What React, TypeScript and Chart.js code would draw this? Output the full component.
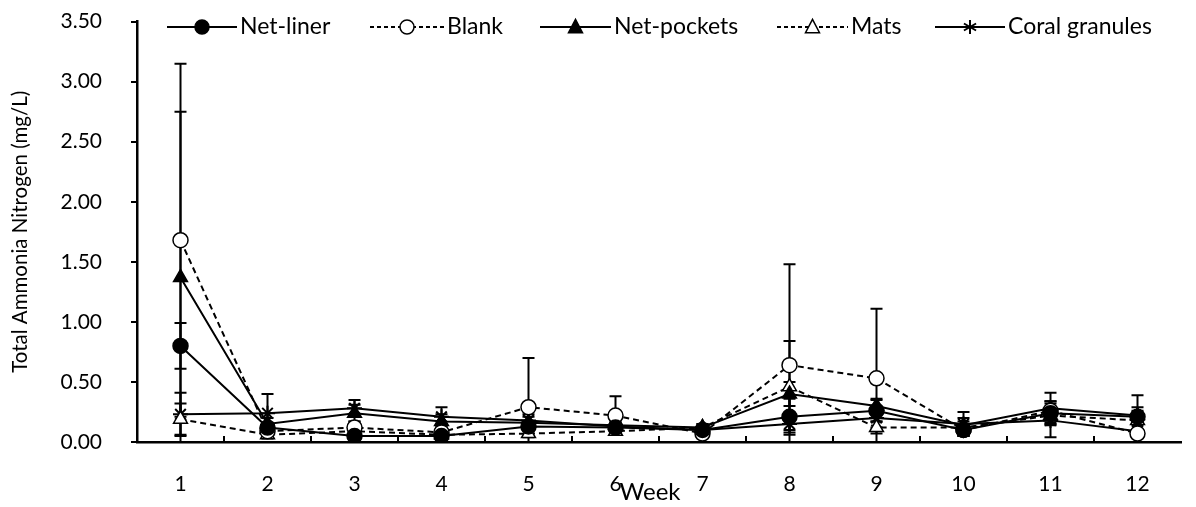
import React, { useEffect, useRef } from "react";
import { Chart, registerables } from "chart.js";

Chart.register(...registerables);

const weeks = ["1", "2", "3", "4", "5", "6", "7", "8", "9", "10", "11", "12"];

const netLiner = [0.80, 0.12, 0.05, 0.05, 0.13, 0.12, 0.10, 0.21, 0.26, 0.10, 0.24, 0.21];
const blank = [1.68, 0.09, 0.12, 0.08, 0.29, 0.22, 0.07, 0.64, 0.53, 0.10, 0.26, 0.07];
const netPockets = [1.37, 0.15, 0.24, 0.17, 0.16, 0.14, 0.12, 0.40, 0.30, 0.14, 0.28, 0.22];
const mats = [0.19, 0.06, 0.09, 0.06, 0.07, 0.09, 0.12, 0.46, 0.12, 0.12, 0.22, 0.18];
const coral = [0.23, 0.24, 0.28, 0.21, 0.18, 0.13, 0.10, 0.15, 0.20, 0.15, 0.18, 0.09];

const netLinerSD = [0.19, 0.04, 0.03, 0.03, 0.04, 0.04, 0.03, 0.15, 0.09, 0.05, 0.10, 0.05];
const blankSD = [1.47, 0.04, 0.05, 0.04, 0.41, 0.16, 0.03, 0.84, 0.58, 0.05, 0.08, 0.03];
const netPocketsSD = [1.38, 0.05, 0.07, 0.06, 0.05, 0.05, 0.03, 0.10, 0.06, 0.06, 0.13, 0.17];
const matsSD = [0.13, 0.03, 0.04, 0.03, 0.03, 0.03, 0.03, 0.38, 0.05, 0.05, 0.06, 0.11];
const coralSD = [0.18, 0.16, 0.07, 0.08, 0.05, 0.05, 0.03, 0.05, 0.08, 0.10, 0.14, 0.05];

const seriesLabels = ["Net-liner", "Blank", "Net-pockets", "Mats", "Coral granules"];
const yTitle = "Total Ammonia Nitrogen (mg/L)";
const xTitle = "Week";

const FONT = "Lato";
const DASH = [6, 4];
const SHIFT = 20; // canvas is drawn 20px taller and shifted up

type SeriesDef = {
  label: string;
  data: number[];
  sd: number[];
  dashed: boolean;
  style: string;
  filled: boolean;
};

const series: SeriesDef[] = [
  { label: seriesLabels[0], data: netLiner, sd: netLinerSD, dashed: false, style: "circle", filled: true },
  { label: seriesLabels[1], data: blank, sd: blankSD, dashed: true, style: "circle", filled: false },
  { label: seriesLabels[2], data: netPockets, sd: netPocketsSD, dashed: false, style: "triangle", filled: true },
  { label: seriesLabels[3], data: mats, sd: matsSD, dashed: true, style: "triangle", filled: false },
  { label: seriesLabels[4], data: coral, sd: coralSD, dashed: false, style: "star", filled: false },
];

const legendPos = [
  { x0: 167, x1: 237, tx: 240 },
  { x0: 370, x1: 444, tx: 447 },
  { x0: 540, x1: 611, tx: 614 },
  { x0: 777, x1: 848, tx: 851 },
  { x0: 935, x1: 1005, tx: 1008 },
];

function drawMarker(ctx: CanvasRenderingContext2D, style: string, filled: boolean, x: number, y: number, r: number) {
  ctx.save();
  ctx.setLineDash([]);
  ctx.lineWidth = 1.5;
  ctx.strokeStyle = "#000";
  ctx.fillStyle = filled ? "#000" : "#fff";
  ctx.beginPath();
  if (style === "circle") {
    ctx.arc(x, y, r, 0, Math.PI * 2);
    ctx.fill();
    ctx.stroke();
  } else if (style === "triangle") {
    const h = r * 1.1;
    ctx.moveTo(x, y - h);
    ctx.lineTo(x + r, y + h * 0.75);
    ctx.lineTo(x - r, y + h * 0.75);
    ctx.closePath();
    ctx.fill();
    ctx.stroke();
  } else {
    ctx.lineWidth = 2;
    for (let i = 0; i < 3; i++) {
      const a = Math.PI / 2 + (i * Math.PI) / 3;
      ctx.moveTo(x + Math.cos(a) * r, y + Math.sin(a) * r);
      ctx.lineTo(x - Math.cos(a) * r, y - Math.sin(a) * r);
    }
    ctx.stroke();
  }
  ctx.restore();
}

const customPlugin = {
  id: "custom",
  beforeDatasetsDraw(chart: any) {
    const ctx = chart.ctx as CanvasRenderingContext2D;
    const xs = chart.scales.x;
    const ys = chart.scales.y;
    ctx.save();
    ctx.strokeStyle = "#000";
    ctx.lineWidth = 2;
    ctx.setLineDash([]);
    chart.data.datasets.forEach((ds: any) => {
      ds.data.forEach((v: number, i: number) => {
        const e = ds.sd[i];
        const x = xs.getPixelForValue(i);
        const hi = v + e;
        const lo = Math.max(0, v - e);
        const yHi = ys.getPixelForValue(hi);
        const yLo = ys.getPixelForValue(lo);
        ctx.beginPath();
        ctx.moveTo(x, yHi);
        ctx.lineTo(x, yLo);
        ctx.moveTo(x - 6, yHi);
        ctx.lineTo(x + 6, yHi);
        if (v - e > 0) {
          ctx.moveTo(x - 6, yLo);
          ctx.lineTo(x + 6, yLo);
        }
        ctx.stroke();
      });
    });
    ctx.restore();
  },
  afterDraw(chart: any) {
    const ctx = chart.ctx as CanvasRenderingContext2D;
    const xs = chart.scales.x;
    const area = chart.chartArea;
    ctx.save();
    // inward x ticks between categories
    ctx.strokeStyle = "#000";
    ctx.lineWidth = 2;
    ctx.setLineDash([]);
    ctx.beginPath();
    for (let i = 0; i < weeks.length - 1; i++) {
      const xm = (xs.getPixelForValue(i) + xs.getPixelForValue(i + 1)) / 2;
      ctx.moveTo(xm, area.bottom);
      ctx.lineTo(xm, area.bottom - 6);
    }
    ctx.stroke();
    // x title
    ctx.fillStyle = "#000";
    ctx.font = `24px ${FONT}`;
    ctx.textAlign = "center";
    ctx.textBaseline = "middle";
    ctx.fillText(xTitle, 650, 492 + SHIFT);
    // legend
    const ly = 27 + SHIFT;
    series.forEach((s, i) => {
      const p = legendPos[i];
      ctx.save();
      ctx.strokeStyle = "#000";
      ctx.lineWidth = 2;
      ctx.setLineDash(s.dashed ? [4, 3] : []);
      ctx.beginPath();
      ctx.moveTo(p.x0, ly);
      ctx.lineTo(p.x1, ly);
      ctx.stroke();
      ctx.restore();
      drawMarker(ctx, s.style, s.filled, (p.x0 + p.x1) / 2, ly, 7);
      ctx.fillStyle = "#000";
      ctx.font = `23px ${FONT}`;
      ctx.textAlign = "left";
      ctx.textBaseline = "middle";
      ctx.fillText(s.label, p.tx, ly);
    });
    ctx.restore();
  },
};

export default function App() {
  const ref = useRef<HTMLCanvasElement | null>(null);
  useEffect(() => {
    if (!ref.current) return;
    const chart = new Chart(ref.current, {
      type: "line",
      data: {
        labels: weeks,
        datasets: series.map((s) => ({
          label: s.label,
          data: s.data,
          sd: s.sd,
          borderColor: "#000",
          borderWidth: 2,
          borderDash: s.dashed ? DASH : [],
          pointStyle: s.style,
          pointRadius: s.style === "triangle" ? 8 : 7.5,
          pointBorderWidth: s.style === "star" ? 2 : 1.5,
          pointBorderColor: "#000",
          pointBackgroundColor: s.filled ? "#000" : "#fff",
          backgroundColor: s.filled ? "#000" : "#fff",
          fill: false,
          tension: 0,
        })) as any,
      },
      options: {
        responsive: false,
        animation: false,
        layout: { padding: { top: 0, right: 15, bottom: 0, left: 0 } },
        plugins: {
          legend: { display: false },
          tooltip: { enabled: false },
          title: { display: false },
        },
        scales: {
          x: {
            type: "category",
            offset: true,
            grid: { display: false },
            border: { display: true, color: "#000", width: 2.5 },
            ticks: {
              color: "#000",
              font: { family: FONT, size: 21 },
              padding: 22,
              maxRotation: 0,
              autoSkip: false,
            },
            afterFit: (scale: any) => {
              scale.height = 65 + SHIFT;
            },
          },
          y: {
            min: 0,
            max: 3.5,
            grid: {
              display: true,
              drawOnChartArea: false,
              drawTicks: true,
              tickLength: 6,
              color: "#000",
              lineWidth: 2,
            },
            border: { display: true, color: "#000", width: 2.5 },
            ticks: {
              stepSize: 0.5,
              color: "#000",
              font: { family: FONT, size: 21 },
              padding: 29,
              callback: (v: any) => Number(v).toFixed(2),
            },
            title: {
              display: true,
              text: yTitle,
              color: "#000",
              font: { family: FONT, size: 20.5 },
              padding: { top: 8, bottom: 0 },
            },
            afterFit: (scale: any) => {
              scale.width = 137;
            },
          },
        },
      },
      plugins: [customPlugin],
    });
    return () => chart.destroy();
  }, []);
  return (
    <div style={{ position: "absolute", left: 0, top: 0, width: 1196, height: 507, overflow: "hidden", background: "#fff" }}>
      <canvas
        ref={ref}
        width={1196}
        height={507 + SHIFT * 2}
        style={{ position: "absolute", left: 0, top: -SHIFT, display: "block" }}
      />
    </div>
  );
}
